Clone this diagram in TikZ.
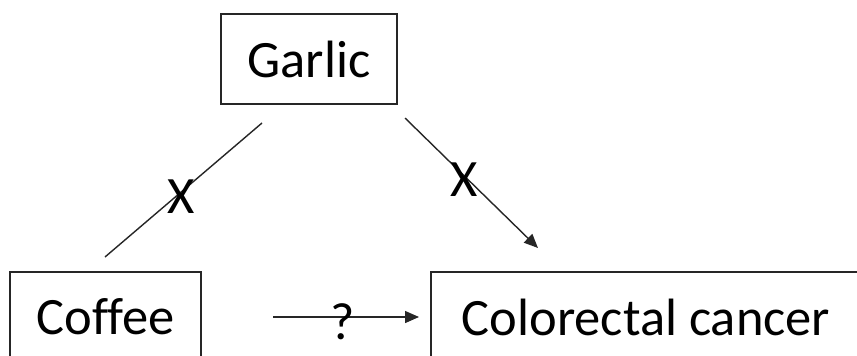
\documentclass[tikz,border=0pt]{standalone}
\usepackage{fontspec}
\setmainfont{Carlito}[Ligatures=NoCommon]
\usetikzlibrary{arrows.meta}
\begin{document}
\begin{tikzpicture}[x=1pt,y=-1pt,
  box/.style={draw=black!85,line width=1.4pt,inner sep=0pt,font=\fontsize{52.5}{60}\selectfont},
  lbl/.style={inner sep=0pt,font=\fontsize{52.5}{60}\selectfont},
  conn/.style={draw=black!85,line width=1.4pt},
  arr/.style={conn,-{Triangle[length=14pt,width=12pt]}}]
\clip (0,0) rectangle (857,356);
\fill[white] (0,0) rectangle (857,356);
\node[box,minimum width=176pt,minimum height=90pt] (garlic) at (309,59) {Garlic};
\node[box,minimum width=191pt,minimum height=90pt] (coffee) at (105.5,317) {Coffee};
\node[box,minimum width=430pt,minimum height=90pt] (crc) at (646,317) {Colorectal cancer};
\coordinate (g1) at (262,123);
\coordinate (c1) at (105,257);
\coordinate (g2) at (405,118);
\coordinate (r2) at (538,248);
\coordinate (b1) at (273,317);
\coordinate (b2) at (419,317);
\draw[conn] (g1) -- (c1);
\draw[arr] (g2) -- (r2);
\draw[arr] (b1) -- (b2);
\node[lbl] (x1) at (181,197) {X};
\node[lbl] (x2) at (464,180) {X};
\node[lbl] (q) at (343,322) {?};
\end{tikzpicture}
\end{document}
